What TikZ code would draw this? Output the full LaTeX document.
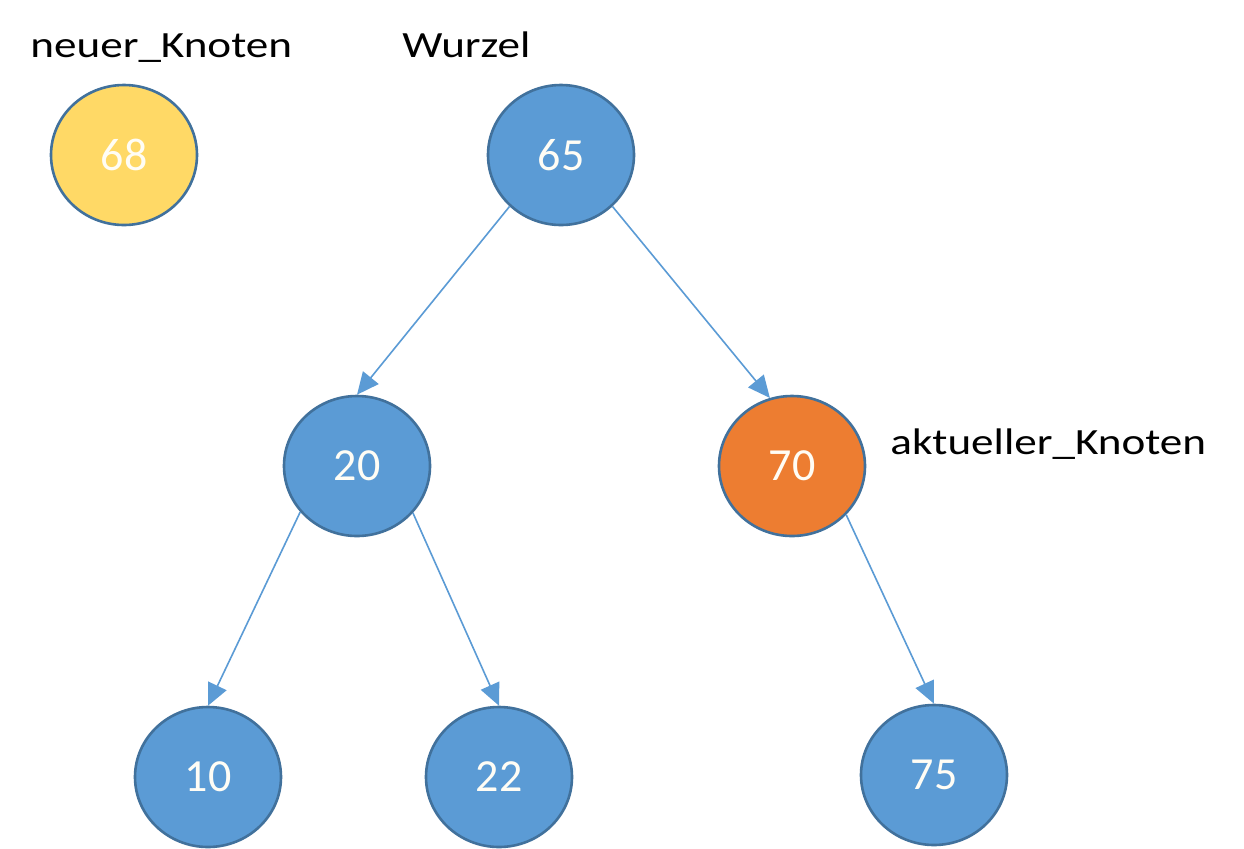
\documentclass[tikz,border=0pt]{standalone}
\usepackage{fontspec}
\setmainfont{Carlito}
\newfontfamily\widefont[FakeStretch=1.22]{Carlito}
\usetikzlibrary{shapes.geometric,arrows.meta}
\definecolor{nodeblue}{HTML}{5B9BD5}
\definecolor{nodeborder}{HTML}{41719C}
\definecolor{nodeorange}{HTML}{ED7D31}
\definecolor{nodeyellow}{HTML}{FFD966}
\definecolor{edgeblue}{HTML}{5B9BD5}
\definecolor{numwhite}{HTML}{FFFDF5}
\tikzset{
  treenode/.style={ellipse, draw=nodeborder, line width=1.3pt, fill=nodeblue,
    minimum width=73pt, minimum height=70pt, inner sep=0pt,
    text=numwhite, font=\fontsize{23}{27}\selectfont},
  newnode/.style={treenode, fill=nodeyellow},
  curnode/.style={treenode, fill=nodeorange},
  lbl/.style={anchor=base west, inner sep=0pt, font=\widefont\fontsize{18.5}{22}\selectfont},
  edge/.style={draw=edgeblue, line width=0.8pt, -{Triangle[length=11pt,width=10pt]}}
}
\begin{document}
\begin{tikzpicture}[x=0.5pt,y=-0.5pt]
\useasboundingbox[fill=white] (0,0) rectangle (1244,848);
\node[newnode] (n68) at (124,155) {68};
\node[treenode] (n65) at (561,155) {65};
\node[treenode] (n20) at (357,466) {20};
\node[curnode] (n70) at (792,466) {70};
\node[treenode] (n10) at (208,777) {10};
\node[treenode] (n22) at (499,777) {22};
\node[treenode] (n75) at (934,775) {75};
\node[lbl] (lneu) at (30,57) {neuer\_Knoten};
\node[lbl] (lwur) at (402,57) {Wurzel};
\node[lbl] (lakt) at (890,454) {aktueller\_Knoten};
\draw[edge] (n65.225) -- (n20.north);
\draw[edge] (n65.315) -- (n70.108);
\draw[edge] (n20.219) -- (n10.north);
\draw[edge] (n20.320) -- (n22.north);
\draw[edge] (n70.318) -- (n75.north);
\end{tikzpicture}
\end{document}
